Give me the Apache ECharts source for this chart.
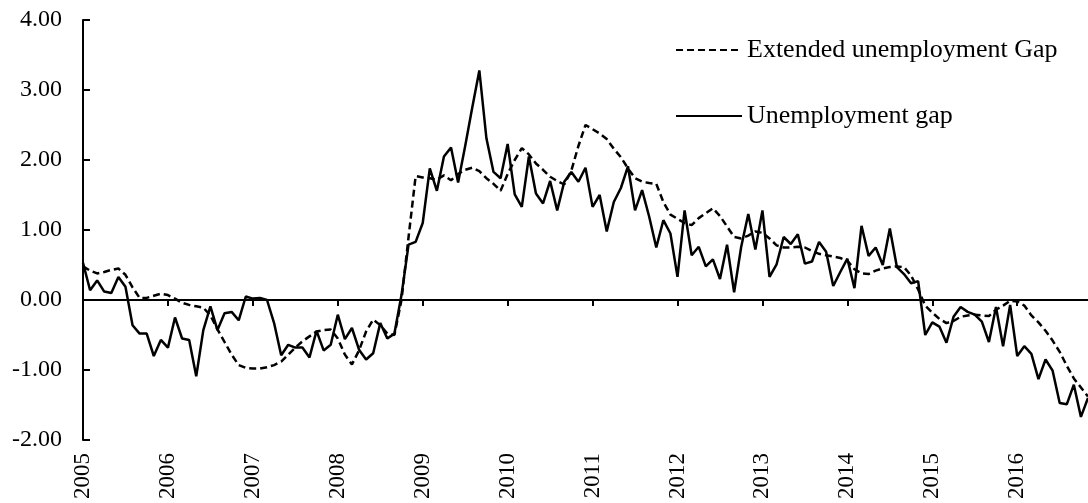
<!DOCTYPE html>
<html lang="en">
<head>
    <meta charset="UTF-8">
    <title>Unemployment gap</title>
    <style>
    body{margin:0;background:#fff;}
    #main{width:1088px;height:503px;}
    </style>
</head>
<body>
<div id="main"></div>
<script src="https://cdn.jsdelivr.net/npm/echarts@6/dist/echarts.min.js"></script>
<script>
// years on the axis, one label per January
var years = ['2005','2006','2007','2008','2009','2010','2011','2012','2013','2014','2015','2016'];
var lastYearMonths = 11;

// extended unemployment gap (dashed), monthly from Jan 2005
var extGap = [
    0.48, 0.42, 0.38, 0.40, 0.43, 0.45, 0.36, 0.18, 0.03, 0.03, 0.06, 0.09,
    0.07, 0.02, -0.04, -0.07, -0.09, -0.11, -0.22, -0.42, -0.60, -0.78, -0.93, -0.97,
    -0.98, -0.98, -0.96, -0.93, -0.88, -0.78, -0.68, -0.59, -0.52, -0.45, -0.43, -0.42,
    -0.55, -0.78, -0.92, -0.72, -0.45, -0.28, -0.36, -0.48, -0.50, 0.00, 0.90, 1.77,
    1.75, 1.74, 1.72, 1.78, 1.71, 1.80, 1.86, 1.89, 1.84, 1.74, 1.66, 1.56,
    1.80, 2.00, 2.17, 2.08, 1.95, 1.86, 1.76, 1.70, 1.65, 1.85, 2.20, 2.50,
    2.44, 2.38, 2.30, 2.16, 2.04, 1.88, 1.74, 1.69, 1.67, 1.66, 1.40, 1.22,
    1.16, 1.10, 1.07, 1.17, 1.24, 1.31, 1.20, 1.05, 0.90, 0.88, 0.92, 0.98,
    0.96, 0.88, 0.78, 0.75, 0.75, 0.76, 0.75, 0.70, 0.66, 0.64, 0.62, 0.60,
    0.56, 0.44, 0.38, 0.37, 0.42, 0.45, 0.47, 0.48, 0.47, 0.35, 0.15, -0.08,
    -0.18, -0.27, -0.33, -0.30, -0.24, -0.22, -0.21, -0.22, -0.23, -0.14, -0.08, -0.01,
    -0.02, -0.08, -0.22, -0.32, -0.44, -0.58, -0.74, -0.94, -1.12, -1.25, -1.38
];

// unemployment gap (solid)
var gap = [
    0.53, 0.14, 0.28, 0.12, 0.10, 0.33, 0.19, -0.36, -0.48, -0.48, -0.80, -0.57,
    -0.68, -0.25, -0.55, -0.57, -1.09, -0.43, -0.09, -0.43, -0.19, -0.17, -0.29, 0.05,
    0.02, 0.03, 0.00, -0.33, -0.79, -0.64, -0.68, -0.68, -0.82, -0.44, -0.72, -0.64,
    -0.21, -0.56, -0.40, -0.71, -0.85, -0.76, -0.33, -0.55, -0.48, 0.07, 0.79, 0.83,
    1.10, 1.88, 1.56, 2.05, 2.18, 1.68, 2.20, 2.75, 3.28, 2.31, 1.83, 1.74,
    2.23, 1.51, 1.33, 2.05, 1.52, 1.38, 1.70, 1.28, 1.69, 1.83, 1.69, 1.89,
    1.33, 1.50, 0.98, 1.40, 1.60, 1.91, 1.28, 1.57, 1.19, 0.75, 1.14, 0.95,
    0.33, 1.28, 0.64, 0.76, 0.48, 0.58, 0.30, 0.79, 0.11, 0.76, 1.23, 0.72,
    1.28, 0.33, 0.51, 0.90, 0.80, 0.94, 0.52, 0.55, 0.83, 0.69, 0.20, 0.40,
    0.59, 0.17, 1.06, 0.63, 0.75, 0.50, 1.02, 0.47, 0.37, 0.24, 0.27, -0.50,
    -0.32, -0.38, -0.61, -0.24, -0.10, -0.17, -0.21, -0.31, -0.60, -0.10, -0.66, -0.07,
    -0.80, -0.66, -0.77, -1.13, -0.85, -1.01, -1.47, -1.49, -1.21, -1.67, -1.40
];

// month categories built from the years
var months = [];
for (var i = 0; i < years.length; i++) {
    var n = (i == years.length - 1) ? lastYearMonths : 12;
    for (var m = 1; m <= n; m++) {
        months.push(years[i] + '-' + (m < 10 ? '0' + m : m));
    }
}

var font = 'Liberation Serif, Times New Roman, serif';
var myChart = echarts.init(document.getElementById('main'));
var option = {
    animation: false,
    grid: {left: 83, right: 0, top: 20, bottom: 63},
    legend: {
        orient: 'vertical',
        left: 670,
        top: 32,
        itemWidth: 66,
        itemHeight: 24,
        itemGap: 40,
        itemStyle: {opacity: 0},
        textStyle: {fontFamily: font, fontSize: 26, color: '#000'},
        data: ['Extended unemployment Gap', 'Unemployment gap']
    },
    xAxis: [
        {
            type: 'category',
            data: months,
            boundaryGap: false,
            position: 'bottom',
            axisLine: {show: false, onZero: false},
            axisTick: {show: false},
            axisLabel: {
                interval: 11,
                rotate: 90,
                margin: 13,
                fontFamily: font,
                fontSize: 23,
                color: '#000',
                formatter: function (v) { return v.slice(0, 4); }
            },
            splitLine: {show: false}
        },
        {
            type: 'category',
            data: months,
            boundaryGap: false,
            position: 'top',
            axisLine: {show: true, onZero: true, lineStyle: {color: '#000', width: 2}},
            axisTick: {show: true, inside: true, interval: 11, length: 6, lineStyle: {color: '#000', width: 2}},
            axisLabel: {show: false},
            splitLine: {show: false}
        }
    ],
    yAxis: {
        type: 'value',
        min: -2,
        max: 4,
        interval: 1,
        axisLine: {show: true, lineStyle: {color: '#000', width: 2}},
        axisTick: {show: true, inside: true, length: 7, lineStyle: {color: '#000', width: 2}},
        axisLabel: {
            margin: 21,
            fontFamily: font,
            fontSize: 24,
            color: '#000',
            formatter: function (v) { return v.toFixed(2); }
        },
        splitLine: {show: false}
    },
    series: [
        {
            name: 'Extended unemployment Gap',
            type: 'line',
            data: extGap,
            symbol: 'none',
            lineStyle: {color: '#000', width: 2.5, type: [7, 4]},
            itemStyle: {color: '#000'}
        },
        {
            name: 'Unemployment gap',
            type: 'line',
            data: gap,
            symbol: 'none',
            lineStyle: {color: '#000', width: 2.5},
            itemStyle: {color: '#000'}
        }
    ]
};
myChart.setOption(option);
</script>
</body>
</html>
